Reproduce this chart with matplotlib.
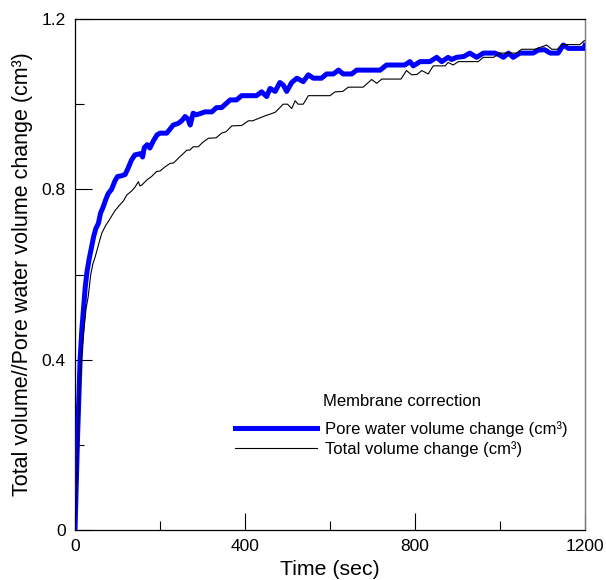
import matplotlib
matplotlib.use("Agg")
import matplotlib.pyplot as plt
from matplotlib.ticker import MultipleLocator

plt.rcParams['font.family'] = ['Liberation Sans', 'DejaVu Sans']

# Pore water volume change (membrane corrected), cm^3
pore_t = [0, 3, 6, 9, 12, 16, 20, 24, 28, 33, 39, 44, 49, 55, 60, 66, 72, 78, 86, 94,
          100, 110, 118, 125, 133, 141, 150, 155, 159, 163, 170, 176, 185, 193, 200, 216,
          231, 243, 252, 259, 266, 271, 278, 285, 295, 306, 322, 333, 345, 365, 380, 392,
          427, 439, 451, 459, 471, 482, 490, 498, 510, 522, 537, 549, 561, 580, 592, 608,
          620, 631, 651, 663, 718, 733, 776, 788, 796, 812, 835, 851, 863, 878, 886, 898,
          915, 929, 945, 961, 988, 998, 1008, 1020, 1031, 1047, 1078, 1090, 1105, 1118,
          1137, 1149, 1161, 1198, 1200]
pore_v = [0.0, 0.11, 0.22, 0.31, 0.40, 0.47, 0.52, 0.57, 0.605, 0.635, 0.665, 0.69, 0.708,
          0.72, 0.744, 0.758, 0.775, 0.79, 0.80, 0.82, 0.83, 0.832, 0.835, 0.85, 0.869,
          0.881, 0.883, 0.884, 0.876, 0.898, 0.905, 0.897, 0.915, 0.928, 0.932, 0.932,
          0.951, 0.955, 0.962, 0.971, 0.965, 0.951, 0.979, 0.975, 0.978, 0.982, 0.982,
          0.992, 0.992, 1.01, 1.01, 1.02, 1.02, 1.029, 1.018, 1.037, 1.03, 1.051, 1.045,
          1.03, 1.051, 1.061, 1.053, 1.069, 1.061, 1.061, 1.071, 1.071, 1.08, 1.071, 1.071,
          1.08, 1.08, 1.092, 1.092, 1.10, 1.09, 1.10, 1.10, 1.11, 1.10, 1.11, 1.105, 1.11,
          1.112, 1.12, 1.11, 1.12, 1.12, 1.116, 1.11, 1.12, 1.11, 1.12, 1.12, 1.127, 1.128,
          1.12, 1.12, 1.139, 1.131, 1.131, 1.138]

# Total volume change, cm^3
total_t = [0, 3, 6, 9, 12, 16, 21, 26, 31, 37, 42, 47, 52, 58, 63, 67, 72, 78, 86, 94,
           104, 114, 122, 133, 141, 149, 153, 157, 169, 180, 192, 200, 212, 224, 232, 245,
           259, 263, 270, 278, 290, 300, 314, 332, 345, 355, 369, 392, 408, 418, 443, 457,
           471, 490, 500, 510, 518, 525, 537, 549, 600, 612, 630, 643, 678, 698, 710, 722,
           767, 780, 792, 805, 816, 831, 843, 871, 878, 890, 902, 949, 961, 985, 1000, 1039,
           1051, 1082, 1110, 1122, 1135, 1145, 1188, 1198, 1200]
total_v = [0.0, 0.08, 0.18, 0.27, 0.35, 0.42, 0.47, 0.52, 0.548, 0.60, 0.625, 0.64, 0.658,
           0.68, 0.697, 0.705, 0.715, 0.724, 0.737, 0.75, 0.762, 0.773, 0.787, 0.796, 0.805,
           0.818, 0.808, 0.81, 0.822, 0.83, 0.842, 0.843, 0.853, 0.861, 0.862, 0.875, 0.888,
           0.892, 0.892, 0.90, 0.90, 0.91, 0.92, 0.921, 0.932, 0.935, 0.949, 0.95, 0.961,
           0.961, 0.971, 0.976, 0.981, 1.0, 1.0, 0.99, 1.008, 1.0, 1.0, 1.02, 1.02, 1.029,
           1.03, 1.04, 1.04, 1.058, 1.049, 1.059, 1.059, 1.079, 1.069, 1.07, 1.079, 1.071,
           1.09, 1.09, 1.098, 1.092, 1.10, 1.10, 1.11, 1.11, 1.12, 1.12, 1.129, 1.129, 1.139,
           1.129, 1.129, 1.14, 1.14, 1.149, 1.149]

x_ticks = [0, 400, 800, 1200]
y_ticks = [0, 0.4, 0.8, 1.2]
x_tick_labels = ['0', '400', '800', '1200']
y_tick_labels = ['0', '0.4', '0.8', '1.2']

fig = plt.figure(figsize=(6.06, 5.80), dpi=100)
ax = fig.add_axes([0.1238, 0.0862, 0.8415, 0.881])

ax.plot(pore_t, pore_v, color=(0, 0, 1), lw=3.6, solid_joinstyle='round',
        label='Pore water volume change (cm³)', zorder=3)
ax.plot(total_t, total_v, color='black', lw=0.8,
        label='Total volume change (cm³)', zorder=4)

ax.set_xlim(0, 1200)
ax.set_ylim(0, 1.2)
ax.set_xticks(x_ticks)
ax.set_xticklabels(x_tick_labels)
ax.set_yticks(y_ticks)
ax.set_yticklabels(y_tick_labels)
ax.xaxis.set_minor_locator(MultipleLocator(200))
ax.yaxis.set_minor_locator(MultipleLocator(0.2))

ax.tick_params(which='major', direction='in', length=12.5, width=0.8, labelsize=12.5,
               top=False, right=False, pad=6.5)
ax.tick_params(which='minor', direction='in', length=6.5, width=0.8,
               top=False, right=False)
for side in ['left', 'bottom', 'top']:
    ax.spines[side].set_linewidth(0.9)
    ax.spines[side].set_color('black')
ax.spines['right'].set_linewidth(1.0)
ax.spines['right'].set_color('#7a7a7a')

ax.set_xlabel('Time (sec)', fontsize=15.3, labelpad=4)
ax.set_ylabel('Total volume//Pore water volume change (cm³)', fontsize=15.5, labelpad=6)

leg = ax.legend(loc='upper left', bbox_to_anchor=(0.3137, 0.213), frameon=False,
                fontsize=12, handlelength=4.9, handletextpad=0.5, labelspacing=0.26,
                borderaxespad=0, borderpad=0)
ax.text(0.486, 0.2524, 'Membrane correction', transform=ax.transAxes, fontsize=12,
        ha='left', va='center')

fig.savefig('out.png', dpi=100)
